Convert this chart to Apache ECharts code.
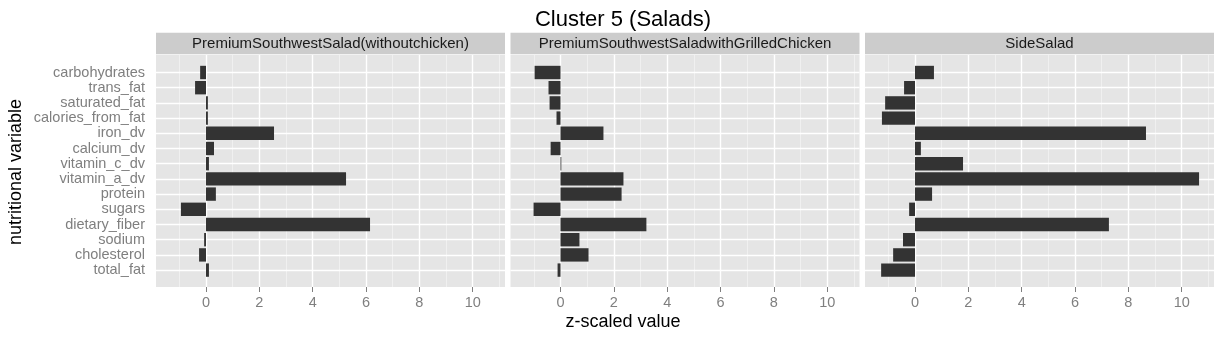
<!DOCTYPE html>
<html>
<head>
<meta charset="utf-8">
<script src="https://cdn.jsdelivr.net/npm/echarts@6/dist/echarts.min.js"></script>
<style>
html,body{margin:0;padding:0;background:#fff;}
#chart{width:1229px;height:340px;}
</style>
</head>
<body>
<div id="chart"></div>
<script>
// ---- data ----
const chartTitle = 'Cluster 5 (Salads)';
const xAxisTitle = 'z-scaled value';
const yAxisTitle = 'nutritional variable';
const panelNames = ['PremiumSouthwestSalad(withoutchicken)', 'PremiumSouthwestSaladwithGrilledChicken', 'SideSalad'];
const categories = ['carbohydrates','trans_fat','saturated_fat','calories_from_fat','iron_dv','calcium_dv','vitamin_c_dv','vitamin_a_dv','protein','sugars','dietary_fiber','sodium','cholesterol','total_fat'];
const saladWithoutChicken = [-0.22, -0.41, 0.07, 0.07, 2.55, 0.30, 0.11, 5.25, 0.37, -0.94, 6.15, -0.07, -0.26, 0.11];
const saladGrilledChicken = [-0.97, -0.45, -0.41, -0.15, 1.61, -0.37, 0.03, 2.36, 2.29, -1.01, 3.22, 0.71, 1.05, -0.11];
const sideSalad = [0.71, -0.41, -1.12, -1.24, 8.66, 0.22, 1.80, 10.65, 0.64, -0.22, 7.27, -0.45, -0.82, -1.27];
const majorTicks = [0, 2, 4, 6, 8, 10];
const minorTicks = [-1, 1, 3, 5, 7, 9, 11];
const xMin = -1.875, xMax = 11.21;

// ---- layout ----
const panelSeries = [saladWithoutChicken, saladGrilledChicken, sideSalad];
const panelLeft = [156, 510.5, 865];
const panelWidth = 349;
const bgTop = 55, bgHeight = 232;
const barTop = 64.9, barHeight = 212.8;
const stripTop = 32.7, stripHeight = 21.6;
const FONT = '"Liberation Sans", Arial, Helvetica, sans-serif';

const grids = [], xAxes = [], yAxes = [], series = [], graphics = [];

panelSeries.forEach((vals, i) => {
  grids.push({left: panelLeft[i], top: bgTop, width: panelWidth, height: bgHeight,
    show: true, backgroundColor: '#e5e5e5', borderWidth: 0, containLabel: false});
  grids.push({left: panelLeft[i], top: barTop, width: panelWidth, height: barHeight,
    show: false, containLabel: false});

  xAxes.push({gridIndex: 2*i, type: 'value', min: xMin, max: xMax,
    axisLine: {show: false},
    splitLine: {show: false},
    axisTick: {show: true, length: 5, customValues: majorTicks, lineStyle: {color: '#7f7f7f', width: 1}},
    axisLabel: {show: true, customValues: majorTicks, margin: 8, color: '#7f7f7f', fontSize: 14.5, fontFamily: FONT}
  });
  xAxes.push({gridIndex: 2*i+1, type: 'value', min: xMin, max: xMax, show: false});

  yAxes.push({gridIndex: 2*i, type: 'value', min: 0, max: 1, show: false});
  yAxes.push({gridIndex: 2*i+1, type: 'category', data: categories, inverse: true,
    axisLine: {show: false},
    splitLine: {show: false},
    axisTick: {show: i === 0, interval: 0, alignWithLabel: true, length: 5, lineStyle: {color: '#7f7f7f', width: 1}},
    axisLabel: {show: i === 0, interval: 0, margin: 11, color: '#7f7f7f', fontSize: 14.5, fontFamily: FONT}
  });

  const vLines = minorTicks.map(v => ({xAxis: v, lineStyle: {color: '#f2f2f2', width: 0.8, type: 'solid'}}))
    .concat(majorTicks.map(v => ({xAxis: v, lineStyle: {color: '#ffffff', width: 1.4, type: 'solid'}})));
  series.push({type: 'line', xAxisIndex: 2*i, yAxisIndex: 2*i, data: [], silent: true,
    markLine: {z: 1, silent: true, animation: false, symbol: ['none', 'none'],
      label: {show: false}, emphasis: {disabled: true}, data: vLines}});

  series.push({type: 'bar', xAxisIndex: 2*i+1, yAxisIndex: 2*i+1, data: vals, z: 2,
    barWidth: '88%', itemStyle: {color: '#333333'}, silent: true,
    markLine: {z: 1, silent: true, animation: false, symbol: ['none', 'none'],
      label: {show: false}, emphasis: {disabled: true},
      lineStyle: {color: '#ffffff', width: 1.4, type: 'solid'},
      data: categories.map((c, k) => ({yAxis: k}))}});

  graphics.push({type: 'rect', left: panelLeft[i], top: stripTop, silent: true,
    shape: {width: panelWidth, height: stripHeight}, style: {fill: '#cccccc'}});
  graphics.push({type: 'text', x: panelLeft[i] + panelWidth / 2, y: stripTop + stripHeight / 2 + 0.5, silent: true,
    style: {text: panelNames[i], fill: '#1a1a1a', font: '15px ' + FONT, align: 'center', verticalAlign: 'middle'}});
});

graphics.push({type: 'text', x: 623, y: 20, silent: true,
  style: {text: chartTitle, fill: '#000', font: '22px ' + FONT, align: 'center', verticalAlign: 'middle'}});
graphics.push({type: 'text', x: 623, y: 322, silent: true,
  style: {text: xAxisTitle, fill: '#000', font: '18px ' + FONT, align: 'center', verticalAlign: 'middle'}});
graphics.push({type: 'text', x: 16, y: 172, rotation: Math.PI / 2, silent: true,
  style: {text: yAxisTitle, fill: '#000', font: '18px ' + FONT, align: 'center', verticalAlign: 'middle'}});

const chart = echarts.init(document.getElementById('chart'), null, {renderer: 'canvas'});
chart.setOption({
  animation: false,
  backgroundColor: '#ffffff',
  grid: grids,
  xAxis: xAxes,
  yAxis: yAxes,
  series: series,
  graphic: graphics
});
</script>
</body>
</html>
